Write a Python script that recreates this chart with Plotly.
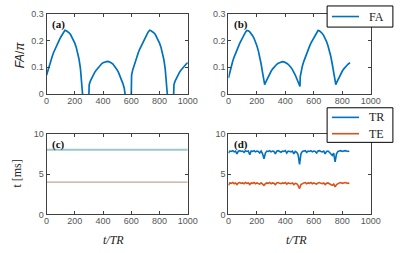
import plotly.graph_objects as go

# ---------------- data ----------------
# panel (a): FA/pi vs t/TR
fa_a_arc1 = [0.070, 0.090, 0.108, 0.125, 0.140, 0.155, 0.168, 0.180, 0.191, 0.201, 0.212, 0.222, 0.232,
             0.238, 0.236, 0.233, 0.228, 0.222, 0.213, 0.203, 0.190, 0.175, 0.155, 0.130, 0.095, 0.045]
fa_a_arc2 = [0.048, 0.060, 0.070, 0.080, 0.088, 0.095, 0.102, 0.108, 0.113, 0.117, 0.119, 0.121, 0.122,
             0.121, 0.119, 0.116, 0.112, 0.106, 0.099, 0.090, 0.080, 0.068, 0.055, 0.040, 0.022]
fa_a_arc3 = [0.090, 0.108, 0.125, 0.140, 0.155, 0.168, 0.180, 0.191, 0.201, 0.212, 0.222, 0.232,
             0.238, 0.236, 0.233, 0.228, 0.222, 0.213, 0.203, 0.190, 0.175, 0.155, 0.130, 0.095, 0.045]
fa_a_arc4 = [0.048, 0.060, 0.070, 0.080, 0.088, 0.095, 0.102, 0.108, 0.113, 0.117]

fa_a_x = (list(range(0, 251, 10)) + [255, 256, 300, 302] + list(range(310, 551, 10)) + [556, 557, 600, 602]
          + list(range(610, 851, 10)) + [855, 856, 900, 902] + list(range(910, 1001, 10)))
fa_a_y = (fa_a_arc1 + [0.0, None, 0.0, 0.035] + fa_a_arc2 + [0.0, None, 0.0, 0.070]
          + fa_a_arc3 + [0.0, None, 0.0, 0.035] + fa_a_arc4)

# panel (b): FA/pi vs t/TR
fa_b_arc1 = [0.060, 0.085, 0.105, 0.122, 0.138, 0.153, 0.166, 0.178, 0.190, 0.200, 0.211, 0.222, 0.231,
             0.237, 0.236, 0.232, 0.226, 0.218, 0.208, 0.196, 0.180, 0.162, 0.140, 0.112, 0.080, 0.040]
fa_b_arc2 = [0.042, 0.054, 0.066, 0.076, 0.085, 0.093, 0.100, 0.106, 0.111, 0.115, 0.118, 0.120, 0.121,
             0.120, 0.118, 0.115, 0.111, 0.106, 0.099, 0.091, 0.082, 0.071, 0.058, 0.045, 0.030]
fa_b_arc3 = [0.085, 0.105, 0.122, 0.138, 0.153, 0.166, 0.178, 0.190, 0.200, 0.211, 0.222, 0.231,
             0.237, 0.236, 0.232, 0.226, 0.218, 0.208, 0.196, 0.180, 0.162, 0.140, 0.112, 0.080, 0.040]
fa_b_arc4 = [0.042, 0.054, 0.066, 0.076, 0.085, 0.093, 0.100, 0.106, 0.111, 0.115]

fa_b_x = (list(range(0, 251, 10)) + [255] + list(range(260, 501, 10)) + [503, 505]
          + list(range(510, 751, 10)) + [755] + list(range(760, 851, 10)) + [855])
fa_b_y = (fa_b_arc1 + [0.035] + fa_b_arc2 + [0.028, 0.065]
          + fa_b_arc3 + [0.035] + fa_b_arc4 + [0.117])

# panel (c): constant TR / TE [ms]
c_x = [0, 1000]
tr_c = [8.0, 8.0]
te_c = [4.0, 4.0]

# panel (d): adaptive TR / TE [ms]
d_x = list(range(0, 851, 10))
tr_d = [7.6, 7.85, 7.8, 7.9, 7.75, 7.85, 7.5, 7.85, 7.9, 7.8,
        7.85, 7.7, 7.9, 7.8, 7.85, 7.4, 7.85, 7.8, 7.9, 7.75,
        7.85, 7.8, 7.6, 7.85, 7.5, 6.9, 7.6, 7.85, 7.8, 7.9,
        7.75, 7.85, 7.8, 7.5, 7.85, 7.9, 7.8, 7.7, 7.85, 7.8,
        7.9, 7.6, 7.85, 7.8, 7.75, 7.85, 7.5, 7.8, 7.7, 7.4,
        6.2, 7.5, 7.8, 7.85, 7.9, 7.7, 7.85, 7.8, 7.9, 7.75,
        7.85, 7.8, 7.6, 7.85, 7.9, 7.8, 7.75, 7.85, 7.5, 7.8,
        7.85, 7.7, 7.5, 7.3, 7.6, 6.5, 7.5, 7.8, 7.85, 7.9,
        7.8, 7.85, 7.9, 7.85, 7.8, 7.85]
te_d = [3.6, 3.9, 3.85, 3.95, 3.8, 3.9, 3.7, 3.9, 3.95, 3.85,
        3.9, 3.8, 3.95, 3.85, 3.9, 3.7, 3.9, 3.85, 3.95, 3.8,
        3.9, 3.85, 3.75, 3.9, 3.7, 3.6, 3.8, 3.9, 3.85, 3.95,
        3.8, 3.9, 3.85, 3.7, 3.9, 3.95, 3.85, 3.8, 3.9, 3.85,
        3.95, 3.75, 3.9, 3.85, 3.8, 3.9, 3.7, 3.85, 3.8, 3.6,
        3.2, 3.7, 3.85, 3.9, 3.95, 3.8, 3.9, 3.85, 3.95, 3.8,
        3.9, 3.85, 3.75, 3.9, 3.95, 3.85, 3.8, 3.9, 3.7, 3.85,
        3.9, 3.8, 3.7, 3.6, 3.75, 3.4, 3.7, 3.85, 3.9, 3.95,
        3.85, 3.9, 3.95, 3.9, 3.85, 3.9]

x_ticks = [0, 200, 400, 600, 800, 1000]
fa_ticks = [0, 0.1, 0.2, 0.3]
t_ticks = [0, 5, 10]

legend_top = ["FA"]
legend_bottom = ["TR", "TE"]

# ---------------- styling ----------------
BLUE = "#0072BD"
ORANGE = "#D95319"
SANS = "Liberation Sans"
SERIF = "Liberation Serif"

fig = go.Figure()

fig.add_trace(go.Scatter(x=fa_a_x, y=fa_a_y, mode="lines", line=dict(color=BLUE, width=1.7),
                         xaxis="x", yaxis="y", showlegend=False, connectgaps=False))
fig.add_trace(go.Scatter(x=fa_b_x, y=fa_b_y, mode="lines", line=dict(color=BLUE, width=1.7),
                         xaxis="x2", yaxis="y2", name="FA", showlegend=False))
fig.add_trace(go.Scatter(x=c_x, y=tr_c, mode="lines", line=dict(color="#9cc8ca", width=2),
                         xaxis="x3", yaxis="y3", showlegend=False))
fig.add_trace(go.Scatter(x=c_x, y=te_c, mode="lines", line=dict(color="#ad9482", width=1),
                         xaxis="x3", yaxis="y3", showlegend=False))
fig.add_trace(go.Scatter(x=d_x, y=tr_d, mode="lines", line=dict(color=BLUE, width=1.6),
                         xaxis="x4", yaxis="y4", name="TR", showlegend=False))
fig.add_trace(go.Scatter(x=d_x, y=te_d, mode="lines", line=dict(color=ORANGE, width=1.6),
                         xaxis="x4", yaxis="y4", name="TE", showlegend=False))

axis_common = dict(showline=True, linecolor="#404040", linewidth=1, mirror="ticks",
                   ticks="inside", ticklen=3, tickcolor="#404040", showgrid=False, zeroline=False,
                   tickfont=dict(family=SANS, size=9, color="#555555"))

xd_left = [45 / 400, 191 / 400]
xd_right = [233 / 400, 380 / 400]
yd_top = [(253 - 92.7) / 253, (253 - 9) / 253]
yd_bot = [(253 - 218) / 253, (253 - 134) / 253]

fig.update_layout(
    width=400, height=253, margin=dict(l=0, r=0, t=0, b=0),
    paper_bgcolor="white", plot_bgcolor="white", showlegend=False,
    xaxis=dict(domain=xd_left, range=[0, 1000], tickvals=x_ticks, anchor="y", ticklabelstandoff=-2, **axis_common),
    yaxis=dict(domain=yd_top, range=[0, 0.3], tickvals=fa_ticks, anchor="x", **axis_common),
    xaxis2=dict(domain=xd_right, range=[0, 1000], tickvals=x_ticks, anchor="y2", ticklabelstandoff=-2, **axis_common),
    yaxis2=dict(domain=yd_top, range=[0, 0.3], tickvals=fa_ticks, anchor="x2", **axis_common),
    xaxis3=dict(domain=xd_left, range=[0, 1000], tickvals=x_ticks, anchor="y3", ticklabelstandoff=-2, **axis_common),
    yaxis3=dict(domain=yd_bot, range=[0, 10], tickvals=t_ticks, anchor="x3", **axis_common),
    xaxis4=dict(domain=xd_right, range=[0, 1000], tickvals=x_ticks, anchor="y4", ticklabelstandoff=-2, **axis_common),
    yaxis4=dict(domain=yd_bot, range=[0, 10], tickvals=t_ticks, anchor="x4", **axis_common),
)

ann = []
for xr, yr, lab in [("x", "y", "(a)"), ("x2", "y2", "(b)"), ("x3", "y3", "(c)"), ("x4", "y4", "(d)")]:
    ann.append(dict(xref=xr + " domain", yref=yr + " domain", x=0.025, y=0.97, xanchor="left",
                    yanchor="top", showarrow=False, text="<b>" + lab + "</b>",
                    font=dict(family=SERIF, size=11, color="#111111")))
ann.append(dict(xref="paper", yref="paper", x=18 / 400, y=(253 - 52) / 253, textangle=-90,
                xanchor="center", yanchor="middle",
                showarrow=False, text="<i>FA</i>/<i>π</i>",
                font=dict(family=SANS, size=12, color="#222222")))
ann.append(dict(xref="paper", yref="paper", x=15 / 400, y=(253 - 176) / 253, textangle=-90,
                xanchor="center", yanchor="middle",
                showarrow=False, text="t [ms]",
                font=dict(family=SERIF, size=12, color="#222222")))
ann.append(dict(xref="paper", yref="paper", x=114 / 400, y=(253 - 245) / 253,
                xanchor="center", yanchor="middle",
                showarrow=False, text="<i>t/TR</i>",
                font=dict(family=SERIF, size=12, color="#222222")))
ann.append(dict(xref="paper", yref="paper", x=303 / 400, y=(253 - 245) / 253,
                xanchor="center", yanchor="middle",
                showarrow=False, text="<i>t/TR</i>",
                font=dict(family=SERIF, size=12, color="#222222")))

# hand-drawn legends (boxes, line samples, labels)
shapes = []
def px_x(v):
    return v / 400
def px_y(v):
    return (253 - v) / 253

shapes.append(dict(type="rect", xref="paper", yref="paper", x0=px_x(335), x1=px_x(403),
                   y0=px_y(23), y1=px_y(1), line=dict(color="#000000", width=1), fillcolor="white"))
shapes.append(dict(type="rect", xref="paper", yref="paper", x0=px_x(335), x1=px_x(403),
                   y0=px_y(143), y1=px_y(107), line=dict(color="#000000", width=1), fillcolor="white"))
legend_items = [(legend_top[0], BLUE, 12), (legend_bottom[0], BLUE, 117), (legend_bottom[1], ORANGE, 134)]
for name, col, yy in legend_items:
    shapes.append(dict(type="line", xref="paper", yref="paper", x0=px_x(340), x1=px_x(368),
                       y0=px_y(yy), y1=px_y(yy), line=dict(color=col, width=1.6)))
    ann.append(dict(xref="paper", yref="paper", x=px_x(376), y=px_y(yy), xanchor="left",
                    yanchor="middle", showarrow=False, text=name,
                    font=dict(family=SERIF, size=12, color="#222222")))

fig.update_layout(annotations=ann, shapes=shapes)

fig.write_html("out.html", config={"displayModeBar": False},
               post_script="document.body.style.margin='0';document.body.style.padding='0';")
